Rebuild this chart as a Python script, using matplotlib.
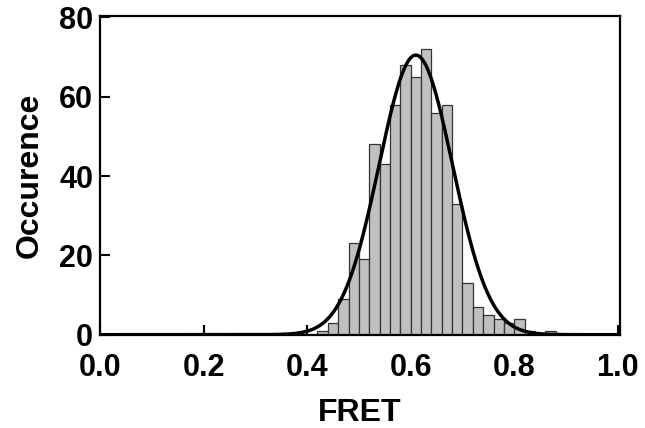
import numpy as np
import matplotlib
matplotlib.use("Agg")
import matplotlib.pyplot as plt

# Histogram data (bin left edges, width 0.02)
bin_left = [0.36, 0.38, 0.40, 0.42, 0.44, 0.46, 0.48, 0.50, 0.52, 0.54, 0.56,
            0.58, 0.60, 0.62, 0.64, 0.66, 0.68, 0.70, 0.72, 0.74, 0.76, 0.78,
            0.80, 0.82, 0.84, 0.86]
counts = [0, 0, 0, 1, 3, 9, 23, 19, 48, 43, 58,
          68, 65, 72, 56, 58, 33, 13, 7, 5, 4, 3,
          4, 1, 0, 1]
bin_width = 0.02

# Gaussian fit parameters
fit_amp = 70.5
fit_center = 0.61
fit_sigma = 0.071

xticks = [0.0, 0.2, 0.4, 0.6, 0.8, 1.0]
yticks = [0, 20, 40, 60, 80]

plt.rcParams['font.family'] = ['Liberation Sans', 'DejaVu Sans']
plt.rcParams['font.weight'] = 'bold'

fig = plt.figure(figsize=(6.45, 4.28), dpi=100)
ax = fig.add_axes([0.155, 0.218, 0.806, 0.745])

ax.bar(bin_left, counts, width=bin_width, align='edge', color='#c0c0c0',
       edgecolor='#333333', linewidth=0.9, zorder=2)

xf = np.linspace(0, 1, 400)
yf = fit_amp * np.exp(-0.5 * ((xf - fit_center) / fit_sigma) ** 2)
ax.plot(xf, yf, color='black', linewidth=2.5, zorder=3)

ax.set_xlim(0, 1.004)
ax.set_ylim(0, 80.4)
ax.set_xticks(xticks)
ax.set_xticklabels([f"{t:.1f}" for t in xticks])
ax.set_yticks(yticks)

for s in ax.spines.values():
    s.set_linewidth(1.6)
    s.set_zorder(4)

ax.tick_params(direction='in', length=7, width=1.5, labelsize=22, pad=5)
ax.tick_params(axis='x', pad=13)
for lab in ax.get_xticklabels() + ax.get_yticklabels():
    lab.set_fontweight('bold')

ax.set_xlabel('FRET', fontsize=23, fontweight='bold', labelpad=11)
ax.set_ylabel('Occurence', fontsize=23, fontweight='bold', labelpad=10)

fig.savefig('out.png', dpi=100)
